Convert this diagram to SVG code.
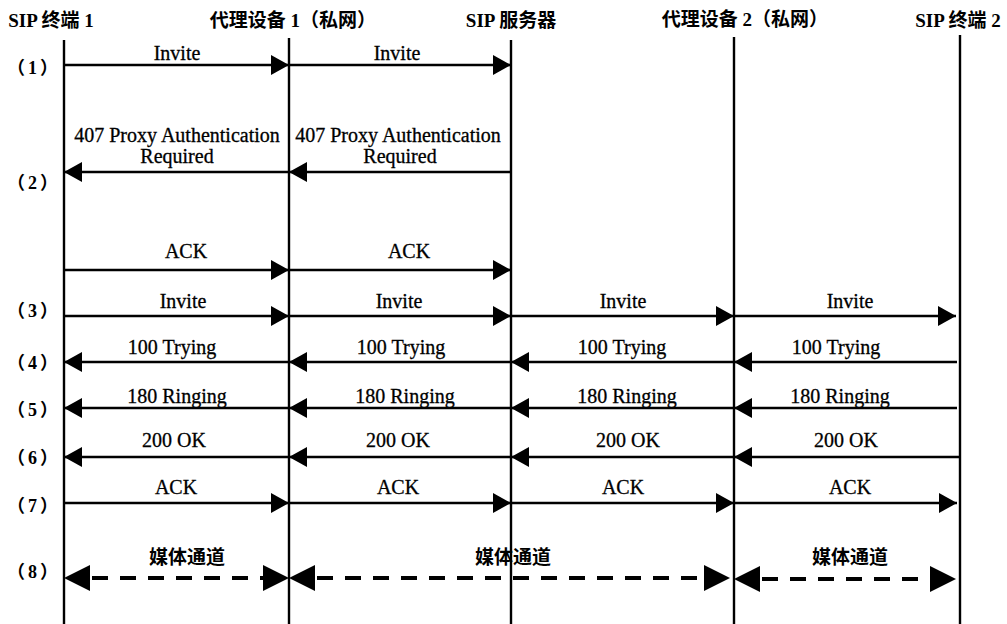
<svg xmlns="http://www.w3.org/2000/svg" width="1007" height="624" viewBox="0 0 1007 624">
<style>
.bg{fill:#fff}
.life{stroke:#000;stroke-width:2.4;fill:none}
.hdr{font-family:"Liberation Serif","Noto Sans CJK SC",serif;font-size:19px;font-weight:bold;fill:#000}
.num{font-family:"Liberation Serif","Noto Sans CJK SC",serif;font-size:18px;font-weight:bold;fill:#000;text-anchor:middle;letter-spacing:3px}
.lbl{font-family:"Liberation Serif","Noto Sans CJK SC",serif;font-size:20px;fill:#000;stroke:#000;stroke-width:0.3;text-anchor:middle}
.cjk{font-family:"Noto Sans CJK SC",sans-serif;font-size:19px;font-weight:bold;fill:#000;text-anchor:middle}
.msg{stroke:#000;stroke-width:2.4;fill:none;marker-end:url(#ah)}
.media{stroke:#000;stroke-width:4;fill:none;stroke-dasharray:16 12;stroke-dashoffset:10;marker-start:url(#bh);marker-end:url(#bh)}
</style>
<defs>
<marker id="ah" markerUnits="userSpaceOnUse" markerWidth="18" markerHeight="20" refX="18" refY="10" orient="auto">
<path d="M0,0 L18,10 L0,20 z" fill="#000"/>
</marker>
<marker id="bh" markerUnits="userSpaceOnUse" markerWidth="26" markerHeight="26" refX="16" refY="13" orient="auto-start-reverse">
<path d="M0,0 L26,13 L0,26 z" fill="#000"/>
</marker>
</defs>
<rect class="bg" x="0" y="0" width="1007" height="624"/>

<g id="sip-terminal-1">
<line class="life" x1="64" y1="40" x2="64" y2="624"/>
<text class="hdr" x="51" y="27" text-anchor="middle">SIP 终端 1</text>
</g>
<g id="proxy-1">
<line class="life" x1="289" y1="38" x2="289" y2="624"/>
<text class="hdr" x="293" y="27" text-anchor="middle">代理设备 1（私网）</text>
</g>
<g id="sip-server">
<line class="life" x1="511" y1="40" x2="511" y2="624"/>
<text class="hdr" x="511" y="27" text-anchor="middle">SIP 服务器</text>
</g>
<g id="proxy-2">
<line class="life" x1="734" y1="37" x2="734" y2="624"/>
<text class="hdr" x="745" y="26" text-anchor="middle">代理设备 2（私网）</text>
</g>
<g id="sip-terminal-2">
<line class="life" x1="960" y1="35" x2="960" y2="624"/>
<text class="hdr" x="958" y="27" text-anchor="middle">SIP 终端 2</text>
</g>

<g id="step-numbers">
<text class="num" x="34" y="74">（1）</text>
<text class="num" x="34" y="189">（2）</text>
<text class="num" x="34" y="317">（3）</text>
<text class="num" x="34" y="369">（4）</text>
<text class="num" x="34" y="416">（5）</text>
<text class="num" x="34" y="464">（6）</text>
<text class="num" x="34" y="512">（7）</text>
<text class="num" x="34" y="578">（8）</text>
</g>

<g id="connectors">
<!-- (1) -->
<line class="msg" x1="64" y1="65" x2="289" y2="65"/>
<line class="msg" x1="289" y1="65" x2="511" y2="65"/>
<!-- (2) -->
<line class="msg" x1="511" y1="172" x2="289" y2="172"/>
<line class="msg" x1="289" y1="172" x2="64" y2="172"/>
<!-- ACK -->
<line class="msg" x1="64" y1="270" x2="289" y2="270"/>
<line class="msg" x1="289" y1="270" x2="511" y2="270"/>
<!-- (3) -->
<line class="msg" x1="64" y1="316" x2="289" y2="316"/>
<line class="msg" x1="289" y1="316" x2="511" y2="316"/>
<line class="msg" x1="511" y1="316" x2="734" y2="316"/>
<line class="msg" x1="734" y1="316" x2="956" y2="316"/>
<!-- (4) -->
<line class="msg" x1="957" y1="362" x2="734" y2="362"/>
<line class="msg" x1="734" y1="362" x2="511" y2="362"/>
<line class="msg" x1="511" y1="362" x2="289" y2="362"/>
<line class="msg" x1="289" y1="362" x2="64" y2="362"/>
<!-- (5) -->
<line class="msg" x1="957" y1="408" x2="734" y2="408"/>
<line class="msg" x1="734" y1="408" x2="511" y2="408"/>
<line class="msg" x1="511" y1="408" x2="289" y2="408"/>
<line class="msg" x1="289" y1="408" x2="64" y2="408"/>
<!-- (6) -->
<line class="msg" x1="960" y1="457" x2="734" y2="457"/>
<line class="msg" x1="734" y1="457" x2="511" y2="457"/>
<line class="msg" x1="511" y1="457" x2="289" y2="457"/>
<line class="msg" x1="289" y1="457" x2="64" y2="457"/>
<!-- (7) -->
<line class="msg" x1="64" y1="503" x2="289" y2="503"/>
<line class="msg" x1="289" y1="503" x2="511" y2="503"/>
<line class="msg" x1="511" y1="503" x2="734" y2="503"/>
<line class="msg" x1="734" y1="503" x2="957" y2="503"/>
<!-- (8) media channels -->
<line class="media" x1="74" y1="578" x2="279" y2="578"/>
<line class="media" x1="299" y1="578" x2="720" y2="578"/>
<line class="media" x1="744" y1="579" x2="946" y2="579"/>
</g>

<g id="labels">
<text class="lbl" x="177" y="60">Invite</text>
<text class="lbl" x="397" y="60">Invite</text>
<text class="lbl" x="177" y="142">407 Proxy Authentication</text>
<text class="lbl" x="177" y="163">Required</text>
<text class="lbl" x="398" y="142">407 Proxy Authentication</text>
<text class="lbl" x="400" y="163">Required</text>
<text class="lbl" x="186" y="258">ACK</text>
<text class="lbl" x="409" y="258">ACK</text>
<text class="lbl" x="183" y="308">Invite</text>
<text class="lbl" x="399" y="308">Invite</text>
<text class="lbl" x="623" y="308">Invite</text>
<text class="lbl" x="850" y="308">Invite</text>
<text class="lbl" x="172" y="354">100 Trying</text>
<text class="lbl" x="401" y="354">100 Trying</text>
<text class="lbl" x="622" y="354">100 Trying</text>
<text class="lbl" x="836" y="354">100 Trying</text>
<text class="lbl" x="177" y="403">180 Ringing</text>
<text class="lbl" x="405" y="403">180 Ringing</text>
<text class="lbl" x="627" y="403">180 Ringing</text>
<text class="lbl" x="840" y="403">180 Ringing</text>
<text class="lbl" x="174" y="447">200 OK</text>
<text class="lbl" x="398" y="447">200 OK</text>
<text class="lbl" x="628" y="447">200 OK</text>
<text class="lbl" x="846" y="447">200 OK</text>
<text class="lbl" x="176" y="494">ACK</text>
<text class="lbl" x="398" y="494">ACK</text>
<text class="lbl" x="623" y="494">ACK</text>
<text class="lbl" x="850" y="494">ACK</text>
<text class="cjk" x="187" y="564">媒体通道</text>
<text class="cjk" x="513" y="564">媒体通道</text>
<text class="cjk" x="850" y="564">媒体通道</text>
</g>
</svg>
